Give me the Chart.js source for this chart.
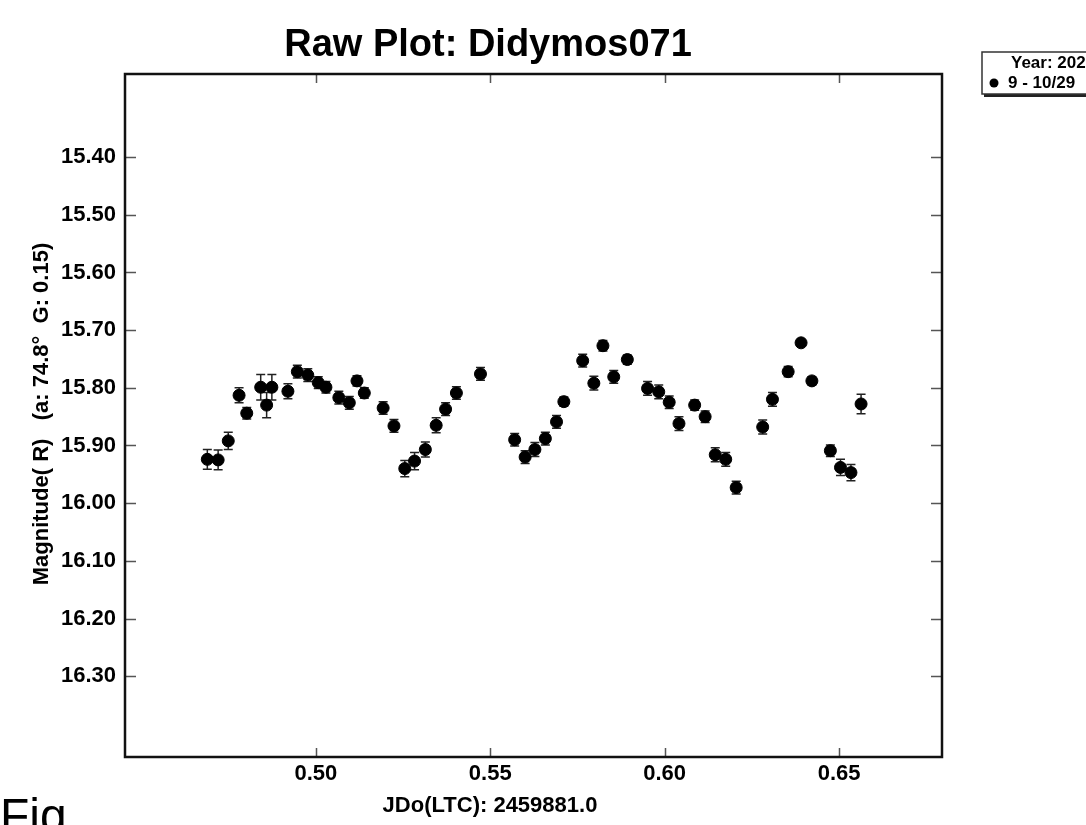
<!DOCTYPE html>
<html>
<head>
<meta charset="utf-8">
<title>Raw Plot: Didymos071</title>
<script src="https://cdn.jsdelivr.net/npm/chart.js@4.4.1/dist/chart.umd.min.js"></script>
<style>
  html, body { margin: 0; padding: 0; background: #fff; overflow: hidden; }
  canvas { display: block; }
</style>
</head>
<body>
<canvas id="rawPlot" width="1086" height="825"></canvas>
<script>
// JD offset from 2459881.0 and R magnitude
const jdOffset = [
  0.4689, 0.4720, 0.4749, 0.4780, 0.4802, 0.4842, 0.4859, 0.4874, 0.4920, 0.4947,
  0.4977, 0.5007, 0.5029, 0.5066, 0.5096, 0.5118, 0.5139, 0.5193, 0.5224, 0.5255,
  0.5283, 0.5314, 0.5345, 0.5372, 0.5403, 0.5472, 0.5570, 0.5600, 0.5628, 0.5658,
  0.5690, 0.5711, 0.5765, 0.5797, 0.5823, 0.5854, 0.5893, 0.5951, 0.5983, 0.6013,
  0.6041, 0.6086, 0.6116, 0.6145, 0.6175, 0.6205, 0.6281, 0.6309, 0.6354, 0.6391,
  0.6422, 0.6475, 0.6504, 0.6534, 0.6563
];
const magR = [
  15.924, 15.925, 15.892, 15.813, 15.844, 15.799, 15.830, 15.799, 15.806, 15.772,
  15.778, 15.791, 15.799, 15.817, 15.826, 15.788, 15.809, 15.835, 15.866, 15.940,
  15.927, 15.907, 15.865, 15.837, 15.809, 15.776, 15.890, 15.920, 15.907, 15.888,
  15.859, 15.824, 15.753, 15.792, 15.727, 15.781, 15.751, 15.801, 15.807, 15.825,
  15.862, 15.830, 15.850, 15.916, 15.924, 15.973, 15.868, 15.820, 15.772, 15.722,
  15.788, 15.909, 15.938, 15.947, 15.828
];
const magErr = [
  0.017, 0.017, 0.015, 0.013, 0.010, 0.022, 0.022, 0.022, 0.013, 0.011,
  0.011, 0.010, 0.010, 0.011, 0.011, 0.009, 0.009, 0.011, 0.011, 0.014,
  0.015, 0.013, 0.013, 0.011, 0.011, 0.011, 0.011, 0.011, 0.012, 0.011,
  0.011, 0.008, 0.011, 0.012, 0.009, 0.011, 0.008, 0.012, 0.012, 0.011,
  0.012, 0.009, 0.010, 0.012, 0.012, 0.011, 0.012, 0.012, 0.009, 0.004,
  0.007, 0.010, 0.014, 0.014, 0.017
];
const xTicks = [0.50, 0.55, 0.60, 0.65];
const yTicks = [15.40, 15.50, 15.60, 15.70, 15.80, 15.90, 16.00, 16.10, 16.20, 16.30];

const FONT = "'Liberation Sans', Arial, sans-serif";
Chart.defaults.font.family = FONT;
Chart.defaults.color = '#000';

const points = jdOffset.map((x, i) => ({ x: x, y: magR[i], err: magErr[i] }));

// error bars, drawn under the dots
const errorBars = {
  id: 'errorBars',
  beforeDatasetsDraw(chart) {
    const ctx = chart.ctx;
    const xs = chart.scales.x, ys = chart.scales.y;
    ctx.save();
    ctx.strokeStyle = '#222';
    ctx.lineWidth = 1.5;
    points.forEach(p => {
      const px = xs.getPixelForValue(p.x);
      const y1 = ys.getPixelForValue(p.y - p.err);
      const y2 = ys.getPixelForValue(p.y + p.err);
      ctx.beginPath();
      ctx.moveTo(px, y1); ctx.lineTo(px, y2);
      ctx.moveTo(px - 4.5, y1); ctx.lineTo(px + 4.5, y1);
      ctx.moveTo(px - 4.5, y2); ctx.lineTo(px + 4.5, y2);
      ctx.stroke();
    });
    ctx.restore();
  }
};

// box, inward ticks, titles, legend
const decor = {
  id: 'decor',
  afterDraw(chart) {
    const ctx = chart.ctx;
    const a = chart.chartArea;
    const xs = chart.scales.x, ys = chart.scales.y;
    ctx.save();
    ctx.strokeStyle = '#555';
    ctx.lineWidth = 1.5;
    ctx.beginPath();
    yTicks.forEach(v => {
      const py = Math.round(ys.getPixelForValue(v)) + 0.5;
      ctx.moveTo(a.left, py); ctx.lineTo(a.left + 11, py);
      ctx.moveTo(a.right - 11, py); ctx.lineTo(a.right, py);
    });
    xTicks.forEach(v => {
      const px = Math.round(xs.getPixelForValue(v)) + 0.5;
      ctx.moveTo(px, a.top); ctx.lineTo(px, a.top + 9);
      ctx.moveTo(px, a.bottom - 9); ctx.lineTo(px, a.bottom);
    });
    ctx.stroke();

    ctx.strokeStyle = '#111';
    ctx.lineWidth = 2.5;
    ctx.strokeRect(a.left, a.top, a.right - a.left, a.bottom - a.top);

    ctx.fillStyle = '#000';
    ctx.textAlign = 'center';
    ctx.textBaseline = 'middle';
    ctx.font = 'bold 38px ' + FONT;
    ctx.fillText('Raw Plot: Didymos071', 488, 46);
    ctx.font = 'bold 22px ' + FONT;
    ctx.fillText('JDo(LTC): 2459881.0', 490, 806);

    ctx.save();
    ctx.translate(42, 414);
    ctx.rotate(-Math.PI / 2);
    ctx.fillText('Magnitude( R)   (a: 74.8\u00b0  G: 0.15)', 0, 0);
    ctx.restore();

    // legend box, cut off by the right edge
    ctx.fillStyle = '#222';
    ctx.fillRect(984, 93, 110, 4);
    ctx.fillStyle = '#fff';
    ctx.fillRect(982, 52, 110, 42);
    ctx.strokeStyle = '#333';
    ctx.lineWidth = 1.5;
    ctx.strokeRect(982, 52, 110, 42);
    ctx.fillStyle = '#000';
    ctx.textAlign = 'left';
    ctx.font = 'bold 17px ' + FONT;
    ctx.fillText('Year: 2022', 1011, 63);
    ctx.fillText('9 - 10/29', 1008, 83);
    ctx.beginPath();
    ctx.arc(994, 83, 4.5, 0, Math.PI * 2);
    ctx.fill();

    ctx.font = '48px ' + FONT;
    ctx.textBaseline = 'alphabetic';
    ctx.fillText('Fig', 0, 832);
    ctx.restore();
  }
};

new Chart(document.getElementById('rawPlot').getContext('2d'), {
  type: 'scatter',
  data: {
    datasets: [{
      label: '9 - 10/29',
      data: points,
      backgroundColor: '#000',
      borderColor: '#000',
      pointRadius: 6,
      pointHoverRadius: 6
    }]
  },
  options: {
    responsive: false,
    animation: false,
    devicePixelRatio: 1,
    layout: { padding: { left: 0, top: 74, right: 144, bottom: 0 } },
    plugins: {
      legend: { display: false },
      title: { display: false },
      tooltip: { enabled: false }
    },
    scales: {
      x: {
        type: 'linear',
        min: 0.4453,
        max: 0.6795,
        afterBuildTicks: s => { s.ticks = xTicks.map(v => ({ value: v })); },
        afterFit: s => { s.height = 68; },
        grid: { display: false, drawTicks: false },
        border: { display: false },
        ticks: {
          padding: 4,
          font: { size: 22, weight: 'bold' },
          callback: v => v.toFixed(2)
        }
      },
      y: {
        type: 'linear',
        reverse: true,
        min: 15.256,
        max: 16.44,
        afterBuildTicks: s => { s.ticks = yTicks.map(v => ({ value: v })); },
        afterFit: s => { s.width = 125; },
        grid: { display: false, drawTicks: false },
        border: { display: false },
        ticks: {
          padding: 9,
          font: { size: 22, weight: 'bold' },
          callback: v => v.toFixed(2)
        }
      }
    }
  },
  plugins: [errorBars, decor]
});
</script>
</body>
</html>
